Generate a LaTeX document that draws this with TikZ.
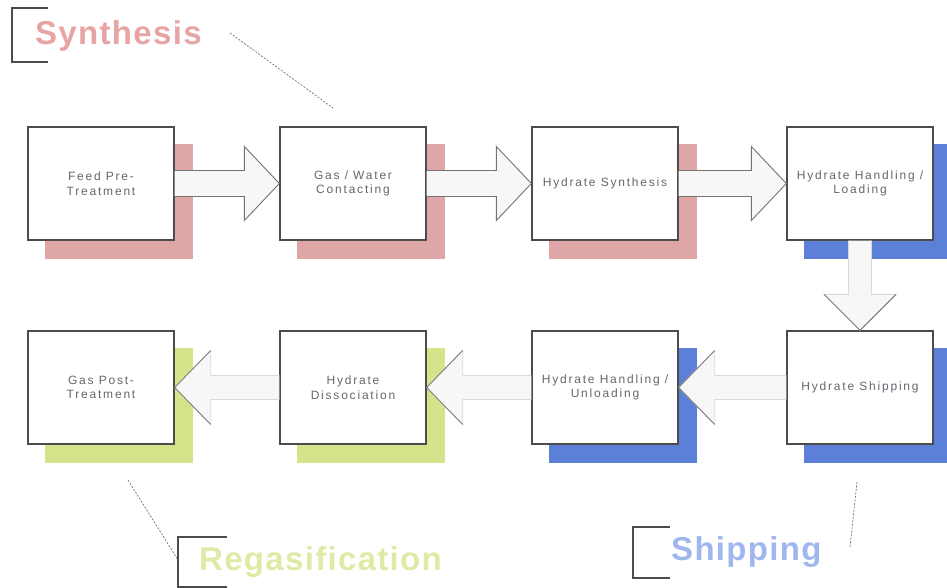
\documentclass[tikz,border=0pt]{standalone}
\usepackage{fontspec}
\setmainfont{Liberation Sans}
\newfontfamily\boxfont[LetterSpace=15]{Liberation Sans}
\newfontfamily\lblfont[LetterSpace=4]{Liberation Sans}
\usetikzlibrary{calc,backgrounds}
\definecolor{pinksh}{HTML}{DEA6A6}
\definecolor{bluesh}{HTML}{5C80D8}
\definecolor{greensh}{HTML}{D5E48A}
\definecolor{pinktxt}{HTML}{E6A4A4}
\definecolor{bluetxt}{HTML}{9FB6EE}
\definecolor{greentxt}{HTML}{DFEAA6}
\definecolor{boxtxt}{HTML}{66666F}
\definecolor{arrfill}{HTML}{F7F7F7}
\begin{document}
\begin{tikzpicture}[x=1pt,y=-1pt,
  stepbox/.style={draw=black!70,line width=1.3pt,fill=white,minimum width=146pt,minimum height=113pt,inner sep=1pt,align=center,text=boxtxt,font=\boxfont\fontsize{12}{14.5}\selectfont},
  arrtop/.style={fill=arrfill,draw=black!55,line width=0.9pt,line join=miter},
  arrlow/.style={fill=arrfill,draw=black!15,line width=0.8pt},
  arrhead/.style={draw=black!50,line width=0.9pt},
  lbl/.style={font=\lblfont\bfseries\fontsize{33}{36}\selectfont,anchor=base west,inner sep=0pt},
  brk/.style={draw=black!70,line width=1.3pt},
  leader/.style={draw=black!55,line width=0.7pt,dash pattern=on 2pt off 1.5pt}]
\useasboundingbox (0,0) rectangle (947,588);
\clip (0,0) rectangle (947,588);
% boxes
\node[stepbox] (feed) at (101,183.5) {Feed Pre-\\Treatment};
\node[stepbox] (gas) at (353,183.5) {Gas / Water\\Contacting};
\node[stepbox] (syn) at (605,183.5) {Hydrate Synthesis};
\node[stepbox] (load) at (860,183.5) {Hydrate Handling /\\Loading};
\node[stepbox] (post) at (101,387.5) {Gas Post-\\Treatment};
\node[stepbox] (diss) at (353,387.5) {Hydrate\\Dissociation};
\node[stepbox] (unload) at (605,387.5) {Hydrate Handling /\\Unloading};
\node[stepbox] (ship) at (860,387.5) {Hydrate Shipping};
% shadows
\begin{scope}[on background layer]
\foreach \n/\c in {feed/pinksh,gas/pinksh,syn/pinksh,load/bluesh,post/greensh,diss/greensh,unload/bluesh,ship/bluesh}
  \fill[\c] ($(\n.north west)+(18,18)$) rectangle ($(\n.south east)+(18,18)$);
\end{scope}
% top row arrows
\foreach \a/\b in {feed/gas,gas/syn,syn/load}
  \path[arrtop] ($(\a.east)+(0,-13)$) -- ($(\b.west)+(-35,-13)$) -- ($(\b.west)+(-35,-37)$) -- (\b.west) -- ($(\b.west)+(-35,37)$) -- ($(\b.west)+(-35,13)$) -- ($(\a.east)+(0,13)$);
% bottom row arrows (leftward)
\foreach \a/\b in {ship/unload,unload/diss,diss/post}{
  \path[arrlow] ($(\a.west)+(0,-12)$) -- ($(\b.east)+(36,-12)$) -- ($(\b.east)+(36,-37)$) -- (\b.east) -- ($(\b.east)+(36,37)$) -- ($(\b.east)+(36,12)$) -- ($(\a.west)+(0,12)$);
  \draw[arrhead] ($(\b.east)+(36,-37)$) -- (\b.east) -- ($(\b.east)+(36,37)$);
}
% down arrow
\path[arrlow] ($(load.south)+(-11.5,0)$) -- ($(ship.north)+(-11.5,-36)$) -- ($(ship.north)+(-36,-36)$) -- (ship.north) -- ($(ship.north)+(36,-36)$) -- ($(ship.north)+(11.5,-36)$) -- ($(load.south)+(11.5,0)$);
\draw[arrhead] ($(ship.north)+(-36,-36)$) -- (ship.north) -- ($(ship.north)+(36,-36)$);
% labels
\node[lbl,text=pinktxt] (lsyn) at (35,45) {Synthesis};
\node[lbl,text=greentxt] (lreg) at (199,570) {Regasification};
\node[lbl,text=bluetxt] (lship) at (671,560) {Shipping};
% brackets
\draw[brk] (48,8) -- (12,8) -- (12,62) -- (48,62);
\draw[brk] (227,537) -- (178,537) -- (178,587) -- (227,587);
\draw[brk] (670,527) -- (633,527) -- (633,578) -- (670,578);
% leader lines
\coordinate (s1) at (230,33); \coordinate (s2) at (333,108);
\coordinate (r1) at (128,480); \coordinate (r2) at (178,560);
\coordinate (h1) at (857,482); \coordinate (h2) at (850,547);
\draw[leader] (s1) -- (s2);
\draw[leader] (r1) -- (r2);
\draw[leader] (h1) -- (h2);
\end{tikzpicture}
\end{document}
